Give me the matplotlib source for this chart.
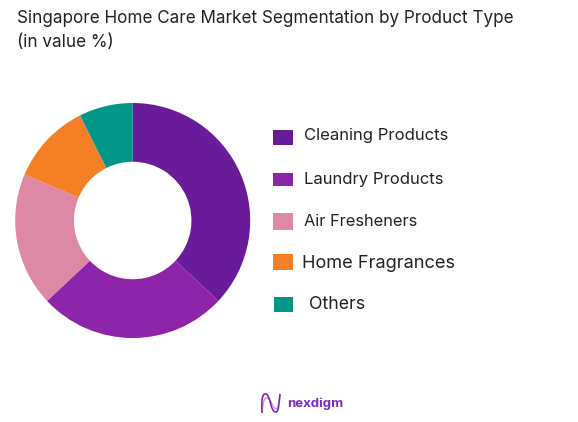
#!/usr/bin/env python3

import matplotlib.pyplot as plt
from matplotlib.patches import PathPatch, Rectangle
from matplotlib.path import Path

WIDTH = 578
HEIGHT = 422

categories = ["Cleaning Products", "Laundry Products", "Air Fresheners", "Home Fragrances", "Others"]
values = [37, 26, 18.4, 11.2, 7.4]
colors = ["#6A1B9A", "#8E24AA", "#DD88A4", "#F57F25", "#009688"]

title_lines = ["Singapore Home Care Market Segmentation by Product Type", "(in value %)"]

# legend layout in pixels: swatch x0, x1, y0, y1, label x, y, font size
legend_layout = [
    (272.5, 293.3, 130, 145, 303.5, 135.5, 12),
    (273.3, 293.3, 172.7, 186, 304, 179.5, 12),
    (272.7, 292.7, 213.3, 230, 304, 221.5, 11.8),
    (272.5, 293.3, 254.3, 270.3, 302.5, 263.5, 13.1),
    (273.7, 293.3, 297, 311.7, 309, 304.5, 12.8),
]

plt.rcParams['font.family'] = ['Inter', 'DejaVu Sans']

fig = plt.figure(figsize=(WIDTH / 100, HEIGHT / 100), dpi=100)

# pie axes, square box around the donut
cx, cy, r = 132.7, 220.5, 117.5
ax = fig.add_axes([(cx - r) / WIDTH, 1 - (cy + r) / HEIGHT, 2 * r / WIDTH, 2 * r / HEIGHT])
ax.pie(values, colors=colors, startangle=90, counterclock=False, radius=1.0,
       wedgeprops=dict(width=0.5, linewidth=0))
ax.set_xlim(-1, 1)
ax.set_ylim(-1, 1)

# overlay in pixel coordinates for the text, legend and logo
over = fig.add_axes([0, 0, 1, 1])
over.set_xlim(0, WIDTH)
over.set_ylim(HEIGHT, 0)
over.axis('off')

over.text(17, 18.5, title_lines[0], fontsize=12.3, color="#222222", va='center', ha='left')
over.text(17, 42.5, title_lines[1], fontsize=12.3, color="#222222", va='center', ha='left')

for name, col, (x0, x1, y0, y1, tx, ty, fs) in zip(categories, colors, legend_layout):
    over.add_patch(Rectangle((x0, y0), x1 - x0, y1 - y0, facecolor=col, edgecolor='none'))
    over.text(tx, ty, name, fontsize=fs, color="#222222", va='center', ha='left')

# logo, two overlapping N-shaped strokes
codes = [Path.MOVETO] + [Path.CURVE4] * 9
stroke_a = [(262, 413), (261, 398), (263, 393), (266, 394), (271, 396), (270, 412),
            (276, 412), (279, 412), (279, 402), (280, 394)]
stroke_b = [(262, 413), (263, 403), (264, 397), (267, 398), (272, 400), (272, 407),
            (276, 409), (278, 410), (279, 402), (280, 394)]
over.add_patch(PathPatch(Path(stroke_b, codes), facecolor='none', edgecolor="#C79AE8", lw=1.0))
over.add_patch(PathPatch(Path(stroke_a, codes), facecolor='none', edgecolor="#7B2CBF", lw=1.2))
over.text(287, 404, "nexdigm", fontsize=9.5, fontweight='bold', color="#7B2CBF", va='center', ha='left')

fig.savefig("out.png", dpi=100)
